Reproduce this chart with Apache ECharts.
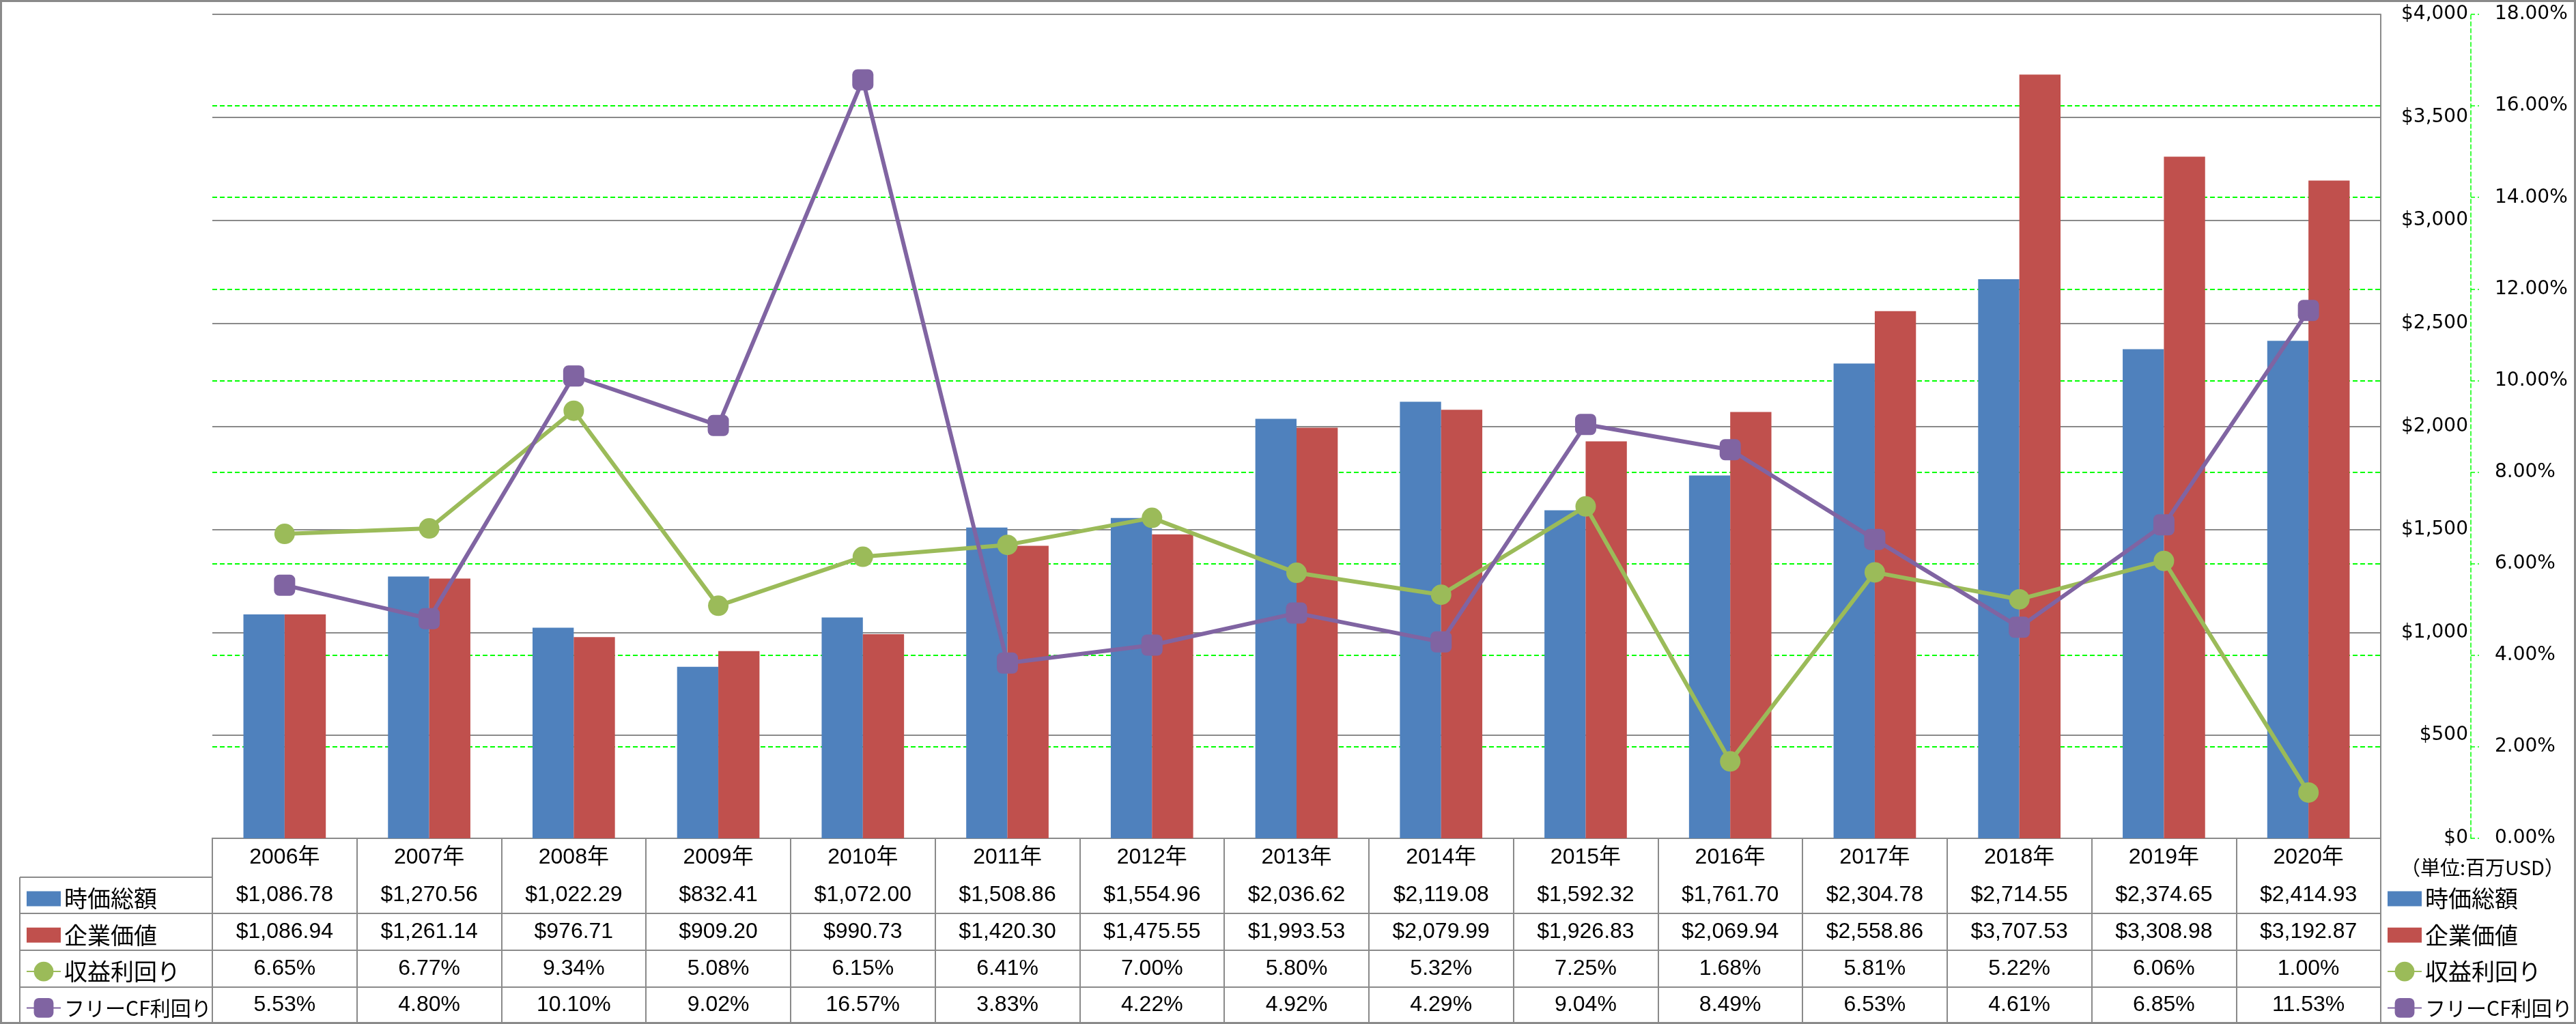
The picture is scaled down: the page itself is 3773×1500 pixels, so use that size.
<!DOCTYPE html>
<html>
<head>
<meta charset="utf-8">
<script src="https://cdn.jsdelivr.net/npm/echarts@6/dist/echarts.min.js"></script>
<style>
html,body{margin:0;padding:0;background:#fff;}
#chart{width:3773px;height:1500px;}
</style>
</head>
<body>
<div id="chart"></div>
<script>
const years = ['2006年','2007年','2008年','2009年','2010年','2011年','2012年','2013年','2014年','2015年','2016年','2017年','2018年','2019年','2020年'];
const marketCap = [1086.78, 1270.56, 1022.29, 832.41, 1072.00, 1508.86, 1554.96, 2036.62, 2119.08, 1592.32, 1761.70, 2304.78, 2714.55, 2374.65, 2414.93];
const enterpriseValue = [1086.94, 1261.14, 976.71, 909.20, 990.73, 1420.30, 1475.55, 1993.53, 2079.99, 1926.83, 2069.94, 2558.86, 3707.53, 3308.98, 3192.87];
const earningsYield = [6.65, 6.77, 9.34, 5.08, 6.15, 6.41, 7.00, 5.80, 5.32, 7.25, 1.68, 5.81, 5.22, 6.06, 1.00];
const fcfYield = [5.53, 4.80, 10.10, 9.02, 16.57, 3.83, 4.22, 4.92, 4.29, 9.04, 8.49, 6.53, 4.61, 6.85, 11.53];
const seriesNames = ['時価総額', '企業価値', '収益利回り', 'フリーCF利回り'];
const unitLabel = '（単位:百万USD）';

const BLUE = '#4F81BD', RED = '#C0504D', GREEN = '#9BBB59', PURPLE = '#8064A2';
const GRAY = '#8a8a8a', LIME = '#00FF00';
const tableFont = "'Liberation Sans', 'Noto Sans CJK JP', sans-serif";
const cjkFont = "'Noto Sans CJK JP', sans-serif";
const axisFont = "'DejaVu Sans', sans-serif";

const money = v => '$' + v.toLocaleString('en-US', {minimumFractionDigits: 2, maximumFractionDigits: 2});
const pct = v => v.toFixed(2) + '%';

function tableAxis(offset, margin, arr, fmt) {
  return {
    type: 'category', gridIndex: 0, position: 'bottom', offset: offset,
    data: years, boundaryGap: true,
    axisLine: {show: true, lineStyle: {color: GRAY, width: 2}},
    axisTick: {show: false},
    splitLine: {show: false},
    axisLabel: {
      interval: 0, margin: margin, verticalAlign: 'middle', color: '#000',
      fontFamily: tableFont, fontSize: 32,
      formatter: (v, i) => fmt(arr[i])
    }
  };
}

const legendData = [
  {name: seriesNames[0], icon: 'path://M0,0h50v22h-50z'},
  {name: seriesNames[1], icon: 'path://M0,0h50v22h-50z'},
  {name: seriesNames[2]},
  {name: seriesNames[3]}
];
function legendAt(left) {
  return {
    orient: 'vertical', left: left, top: 1293.5,
    itemWidth: 50, itemHeight: 36, itemGap: 17.3,
    selectedMode: false,
    data: legendData,
    formatter: name => name.length > 5 ? '{s|' + name + '}' : name,
    textStyle: {
      fontFamily: cjkFont, fontSize: 34, color: '#000', lineHeight: 36,
      rich: {s: {fontFamily: cjkFont, fontSize: 30, color: '#000', lineHeight: 36}}
    }
  };
}

const chart = echarts.init(document.getElementById('chart'), null, {renderer: 'canvas'});
chart.setOption({
  animation: false,
  backgroundColor: '#fff',
  grid: {left: 311, right: 286, top: 21, bottom: 272, containLabel: false},
  legend: [legendAt(33), legendAt(3491)],
  title: {
    text: unitLabel, left: 3511, top: 1251,
    textStyle: {fontFamily: cjkFont, fontSize: 29, fontWeight: 'normal', color: '#000'}
  },
  xAxis: [
    {
      type: 'category', data: years, position: 'bottom', boundaryGap: true,
      axisLine: {show: true, lineStyle: {color: GRAY, width: 2}},
      axisTick: {show: true, interval: 0, length: 270, inside: false, lineStyle: {color: GRAY, width: 2}},
      splitLine: {show: false},
      axisLabel: {interval: 0, margin: 28.5, verticalAlign: 'middle', color: '#000', fontFamily: tableFont, fontSize: 32}
    },
    tableAxis(57, 26.5, marketCap, money),
    tableAxis(110, 27, enterpriseValue, money),
    tableAxis(164, 27, earningsYield, pct),
    tableAxis(218, 26, fcfYield, pct)
  ],
  yAxis: [
    {
      type: 'value', min: 0, max: 4000, interval: 500, position: 'right', z: 1,
      axisLine: {show: true, lineStyle: {color: GRAY, width: 2}},
      axisTick: {show: false},
      splitLine: {show: true, lineStyle: {color: GRAY, width: 2}},
      axisLabel: {
        margin: 128, align: 'right', color: '#000', fontFamily: axisFont, fontSize: 28,
        formatter: v => '$' + v.toLocaleString('en-US')
      }
    },
    {
      type: 'value', min: 0, max: 18, interval: 2, position: 'right', offset: 132, z: 0,
      axisLine: {show: true, lineStyle: {color: LIME, width: 1.5, type: [6, 4]}},
      axisTick: {show: true, inside: false, length: 12, lineStyle: {color: LIME, width: 1.5, type: [6, 4]}},
      splitLine: {show: true, lineStyle: {color: LIME, width: 2, type: [7, 4]}},
      axisLabel: {
        margin: 35, align: 'left', color: '#000', fontFamily: axisFont, fontSize: 28,
        formatter: v => v.toFixed(2) + '%'
      }
    }
  ],
  series: [
    {name: seriesNames[0], type: 'bar', xAxisIndex: 0, yAxisIndex: 0, data: marketCap,
     barGap: '0%', barCategoryGap: '43%', itemStyle: {color: BLUE}, z: 3},
    {name: seriesNames[1], type: 'bar', xAxisIndex: 0, yAxisIndex: 0, data: enterpriseValue,
     barGap: '0%', barCategoryGap: '43%', itemStyle: {color: RED}, z: 3},
    {name: seriesNames[2], type: 'line', xAxisIndex: 0, yAxisIndex: 1, data: earningsYield,
     symbol: 'circle', symbolSize: 30, showAllSymbol: true, z: 5,
     lineStyle: {color: GREEN, width: 6}, itemStyle: {color: GREEN}},
    {name: seriesNames[3], type: 'line', xAxisIndex: 0, yAxisIndex: 1, data: fcfYield,
     symbol: 'roundRect', symbolSize: 31, showAllSymbol: true, z: 6,
     lineStyle: {color: PURPLE, width: 6}, itemStyle: {color: PURPLE}}
  ],
  graphic: [
    {type: 'line', shape: {x1: 29, y1: 1285, x2: 311, y2: 1285}, style: {stroke: GRAY, lineWidth: 2}, silent: true},
    {type: 'line', shape: {x1: 29, y1: 1338, x2: 311, y2: 1338}, style: {stroke: GRAY, lineWidth: 2}, silent: true},
    {type: 'line', shape: {x1: 29, y1: 1392, x2: 311, y2: 1392}, style: {stroke: GRAY, lineWidth: 2}, silent: true},
    {type: 'line', shape: {x1: 29, y1: 1446, x2: 311, y2: 1446}, style: {stroke: GRAY, lineWidth: 2}, silent: true},
    {type: 'line', shape: {x1: 29, y1: 1285, x2: 29, y2: 1498}, style: {stroke: GRAY, lineWidth: 2}, silent: true},
    {type: 'rect', shape: {x: 1.5, y: 1.5, width: 3770, height: 1497}, style: {fill: 'none', stroke: GRAY, lineWidth: 3}, silent: true, z: 100}
  ]
});
</script>
</body>
</html>
